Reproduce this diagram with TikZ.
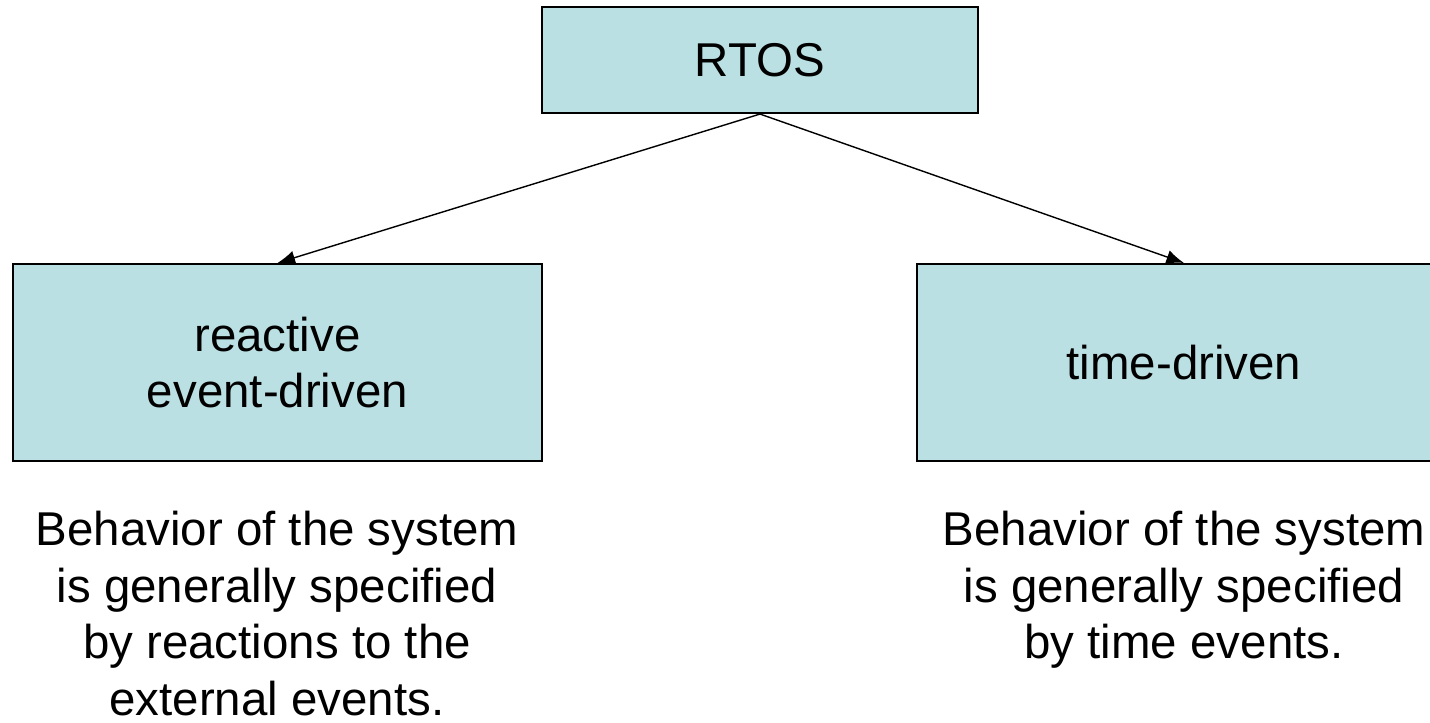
\documentclass[tikz,border=0pt]{standalone}
\usepackage{xcolor}
\usepackage{fontspec}
\setmainfont{Liberation Sans}
\usepackage{tikz}
\usetikzlibrary{positioning, arrows.meta}
\definecolor{paleteal}{RGB}{187,224,227}
\tikzset{
    block/.style={
        draw = black, fill = paleteal,
        line width = 1.2pt,
        inner sep = 0pt,
        align = center,
        font = \fontsize{27pt}{32pt}\selectfont
    },
    note/.style={
        anchor = north, inner sep = 0pt,
        align = center,
        font = \fontsize{27pt}{32.2pt}\selectfont
    },
    line/.style = {-{Latex[length=10pt,width=8pt]}, line width = 0.8pt}
}
\begin{document}
\begin{tikzpicture}

    % Page frame
    \useasboundingbox (0,0) rectangle (28.6,-14.46);
    \clip (0,0) rectangle (28.6,-14.46);

    % Top box
    \node[block, minimum width = 8.72cm, minimum height = 2.12cm] (rtos) at (15.2,-1.2) {RTOS};

    % Two kinds
    \node[block, minimum width = 10.58cm, minimum height = 3.94cm] (reactive) at (5.55,-7.25) {reactive\\event-driven};
    \node[block, minimum width = 10.68cm, minimum height = 3.94cm] (timed) at (23.68,-7.25) {time-driven};

    % Arrows
    \draw[line] (rtos.south) -- (reactive.north);
    \draw[line] (rtos.south) -- (timed.north);

    % Notes
    \node[note] (reactivenote) at (5.54,-10.22) {Behavior of the system\\is generally specified\\by reactions to the\\external events.};
    \node[note] (timednote) at (23.68,-10.22) {Behavior of the system\\is generally specified\\by time events.};

\end{tikzpicture}
\end{document}
